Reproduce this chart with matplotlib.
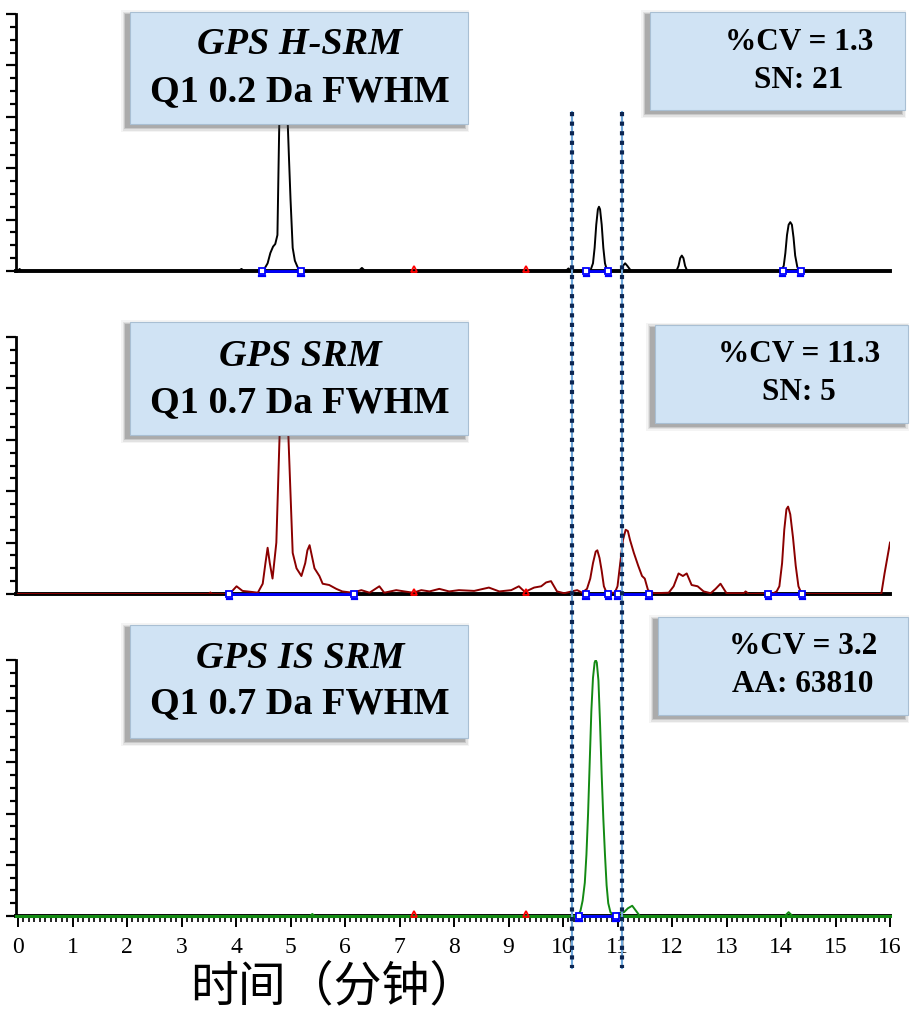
import matplotlib
matplotlib.use("Agg")
import matplotlib.pyplot as plt
from matplotlib.patches import Rectangle
from matplotlib.lines import Line2D
from matplotlib.ticker import MultipleLocator, NullFormatter

# ---- chromatogram traces: retention time (min) and relative intensity (%) ----
h_srm_time = [0.0, 0.03, 0.06, 0.1, 4.05, 4.1, 4.15, 4.45, 4.52, 4.58, 4.63, 4.68, 4.72,
              4.76, 4.78, 4.80, 4.88, 4.95, 4.97, 5.0, 5.04, 5.08, 5.13, 5.18,
              6.25, 6.31, 6.37, 10.05, 10.1, 10.15,
              10.5, 10.55, 10.58, 10.61, 10.64, 10.66, 10.68, 10.71, 10.74, 10.77, 10.81,
              11.05, 11.1, 11.14, 11.18, 11.25,
              12.08, 12.12, 12.15, 12.18, 12.21, 12.24, 12.28,
              14.0, 14.05, 14.08, 14.11, 14.14, 14.17, 14.2, 14.23, 14.26, 14.3, 14.34,
              16.0]
h_srm_int = [0.0, 0.8, 0.0, 0.0, 0.0, 0.8, 0.0, 0.0, 0.8, 3.0, 7.0, 9.5, 10.5,
             14.0, 40.0, 65.0, 100.0, 57.0, 45.0, 28.0, 9.0, 4.0, 1.5, 0.0,
             0.0, 1.2, 0.0, 0.0, 1.0, 0.0,
             0.0, 3.0, 9.0, 18.0, 24.0, 25.0, 24.0, 18.0, 9.0, 3.0, 0.0,
             0.0, 2.0, 3.0, 2.0, 0.0,
             0.0, 2.0, 5.0, 6.0, 5.0, 2.0, 0.0,
             0.0, 2.0, 7.0, 14.0, 18.0, 19.0, 18.0, 13.0, 6.0, 1.5, 0.0,
             0.0]

srm_time = [0.0, 3.5, 3.53, 3.56, 3.88, 4.01, 4.12, 4.29, 4.40, 4.49, 4.54, 4.58, 4.62,
            4.67, 4.74, 4.80, 4.87, 4.96, 5.04, 5.11, 5.20, 5.27, 5.31, 5.35, 5.39, 5.44,
            5.53, 5.59, 5.71, 5.84, 5.95, 6.14, 6.30, 6.45, 6.63, 6.72, 6.94, 7.09, 7.25,
            7.40, 7.55, 7.73, 7.91, 8.09, 8.37, 8.64, 8.83, 9.05, 9.19, 9.30, 9.47, 9.60,
            9.69, 9.78, 9.89, 10.02, 10.26, 10.35, 10.44, 10.50, 10.55, 10.60, 10.63,
            10.67, 10.71, 10.75, 10.80, 10.95, 11.00, 11.05, 11.10, 11.15, 11.19, 11.23,
            11.30, 11.38, 11.45, 11.50, 11.56, 11.67, 11.94, 12.03, 12.12, 12.20, 12.27,
            12.36, 12.47, 12.58, 12.71, 12.80, 12.89, 13.00, 13.32, 13.35, 13.41, 13.86,
            13.92, 13.97, 14.02, 14.06, 14.10, 14.13, 14.17, 14.22, 14.27, 14.32, 14.38,
            15.84, 15.90, 16.0]
srm_int = [0.0, 0.0, 0.6, 0.0, 0.0, 3.0, 1.2, 0.8, 0.5, 4.0, 12.0, 18.0, 12.0,
           6.0, 20.0, 62.0, 100.0, 62.0, 16.0, 10.0, 7.0, 12.0, 17.0, 19.0, 15.0, 10.0,
           7.0, 4.0, 3.5, 2.0, 1.0, 0.5, 1.5, 0.5, 3.0, 0.5, 1.5, 1.0, 0.5,
           1.5, 1.0, 2.0, 1.0, 1.5, 1.2, 2.5, 1.0, 1.5, 3.0, 0.8, 2.5, 3.0,
           4.5, 5.0, 1.0, 0.3, 1.5, 0.5, 2.0, 6.0, 12.0, 16.5, 17.0,
           14.0, 9.0, 3.0, 0.5, 0.5, 3.0, 12.0, 21.0, 25.0, 24.5, 21.0,
           16.0, 11.0, 7.0, 6.0, 1.5, 0.3, 0.5, 3.0, 8.0, 7.0, 8.0,
           3.5, 3.0, 1.0, 0.3, 2.0, 4.0, 0.3, 0.3, 1.0, 0.0, 0.3,
           1.0, 3.0, 12.0, 25.0, 33.0, 34.0, 31.0, 22.0, 11.0, 3.0, 0.0,
           0.0, 8.0, 20.0]

is_srm_time = [0.0, 5.36, 5.40, 5.44, 10.27, 10.32, 10.36, 10.40, 10.43, 10.46, 10.49,
               10.52, 10.55, 10.58, 10.60, 10.62, 10.65, 10.68, 10.71, 10.74, 10.77,
               10.80, 10.83, 10.87, 10.92, 10.99, 11.12, 11.19, 11.27, 11.34, 11.41,
               14.07, 14.14, 14.21, 16.0]
is_srm_int = [0.0, 0.0, 0.8, 0.0, 0.0, 2.0, 6.0, 13.0, 24.0, 40.0, 60.0,
              80.0, 93.0, 99.0, 100.0, 99.0, 92.0, 75.0, 55.0, 38.0, 24.0,
              12.0, 5.0, 1.5, 0.5, 1.0, 1.5, 3.0, 4.0, 2.0, 0.0,
              0.0, 1.5, 0.0, 0.0]

# integration baselines (start, end) per trace, and red reference marks
h_srm_windows = [(4.48, 5.19), (10.43, 10.83), (14.03, 14.36)]
srm_windows = [(3.88, 6.17), (10.42, 10.83), (11.0, 11.58), (13.77, 14.39)]
is_srm_windows = [(10.29, 10.97)]
h_srm_marks = [7.27, 9.32]
srm_marks = [7.27, 9.32]
is_srm_marks = [7.27, 9.32]

# selected retention window
window_lines = [10.16, 11.08]

# box labels
titles = ["GPS H-SRM", "GPS SRM", "GPS IS SRM"]
subtitles = ["Q1 0.2 Da FWHM", "Q1 0.7 Da FWHM", "Q1 0.7 Da FWHM"]
stats_1 = ["%CV = 1.3", "%CV = 11.3", "%CV = 3.2"]
stats_2 = ["SN: 21", "SN: 5", "AA: 63810"]
x_ticks = list(range(0, 17))
x_label = "时间（分钟）"

W, H = 910, 1010
fig = plt.figure(figsize=(W / 100, H / 100), dpi=100)


def fx(px):
    return px / W


def fy(py):
    return 1 - py / H


ax_left, ax_right = 16, 890
panels = [(14, 271), (337, 594), (660, 916)]
xmin, xmax = -0.037, 16.0

traces = [
    (h_srm_time, h_srm_int, "black", h_srm_windows, h_srm_marks),
    (srm_time, srm_int, "#8b0000", srm_windows, srm_marks),
    (is_srm_time, is_srm_int, "#138a13", is_srm_windows, is_srm_marks),
]

axes = []
for i, ((top, base), (t, y, col, wins, marks)) in enumerate(zip(panels, traces)):
    ax = fig.add_axes([fx(ax_left), fy(base), fx(ax_right - ax_left), (base - top) / H])
    ax.set_xlim(xmin, xmax)
    ax.set_ylim(0, 100)
    for s in ("top", "right"):
        ax.spines[s].set_visible(False)
    ax.spines["left"].set_linewidth(2)
    ax.spines["bottom"].set_linewidth(2.8)
    ax.yaxis.set_major_locator(MultipleLocator(20))
    ax.yaxis.set_minor_locator(MultipleLocator(5))
    ax.yaxis.set_major_formatter(NullFormatter())
    ax.tick_params(axis="y", which="major", direction="out", length=7, width=1.6)
    ax.tick_params(axis="y", which="minor", direction="out", length=4.5, width=1.6)
    if i < 2:
        ax.tick_params(axis="x", which="both", bottom=False, labelbottom=False)
    else:
        ax.set_xticks(x_ticks)
        ax.set_xticklabels([str(v) for v in x_ticks], fontfamily="Liberation Serif",
                           fontsize=17)
        ax.xaxis.set_minor_locator(MultipleLocator(0.1))
        ax.tick_params(axis="x", which="major", direction="out", length=8, width=1.4,
                       pad=7)
        ax.tick_params(axis="x", which="minor", direction="out", length=4, width=1.2)
        ax.axhline(0, color=col, lw=2.2, zorder=3, clip_on=False)
    ax.plot(t, y, color=col, lw=1.4, zorder=4, clip_on=True)
    for a, b in wins:
        ax.plot([a, b], [0, 0], color="#0000ff", lw=2.0, zorder=5, clip_on=False)
        ax.plot([a, b], [0, 0], ls="none", zorder=6, clip_on=False,
                marker="s", ms=4.5, mfc="white", mec="#0000ff", mew=1.3)
        for v in (a, b):
            ax.plot([v - 0.05, v + 0.05], [-2.0, -2.0], color="#0000ff", lw=1.6,
                    zorder=5, clip_on=False)
    for m in marks:
        ax.plot([m], [0.6], marker="^", ms=5, color="red", mfc="none", mew=1.3,
                zorder=5, clip_on=False)
    axes.append(ax)


def draw_box(x0, y0, x1, y1):
    # soft drop shadow, mostly to the lower left
    for k, a in [(5, 0.06), (3.5, 0.10), (2, 0.16), (1, 0.22)]:
        fig.patches.append(Rectangle((fx(x0 - 4 - k), fy(y1 + 3 + k)),
                                     fx(x1 - x0 + 2 * k), (y1 - y0 + 2 * k) / H,
                                     transform=fig.transFigure, facecolor="#444444",
                                     edgecolor="none", alpha=a, zorder=5))
    fig.patches.append(Rectangle((fx(x0), fy(y1)), fx(x1 - x0), (y1 - y0) / H,
                                 transform=fig.transFigure, facecolor="#d0e3f4",
                                 edgecolor="#a9bfd3", lw=0.8, zorder=6))


serif = "Liberation Serif"
left_boxes = [(130, 12, 468, 124), (130, 322, 468, 435), (130, 625, 468, 738)]
right_boxes = [(650, 12, 905, 110), (655, 325, 908, 423), (658, 617, 908, 715)]
title_y = [45, 357, 658]
sub_y = [92, 403, 704]
stat1_y = [43, 355, 647]
stat2_y = [80, 393, 685]
stat_x = [799, 799, 803]

for i in range(3):
    draw_box(*left_boxes[i])
    draw_box(*right_boxes[i])
    fig.text(fx(300), fy(title_y[i]), titles[i], fontfamily=serif, fontstyle="italic",
             fontweight="bold", fontsize=27.5, ha="center", va="center", zorder=7)
    fig.text(fx(300), fy(sub_y[i]), subtitles[i], fontfamily=serif, fontweight="bold",
             fontsize=27.5, ha="center", va="center", zorder=7)
    fig.text(fx(stat_x[i]), fy(stat1_y[i]), stats_1[i], fontfamily=serif,
             fontweight="bold", fontsize=22.5, ha="center", va="center", zorder=7)
    fig.text(fx(stat_x[i]), fy(stat2_y[i]), stats_2[i], fontfamily=serif,
             fontweight="bold", fontsize=22.5, ha="center", va="center", zorder=7)

# retention window markers spanning all three traces
to_fig = axes[2].transData + fig.transFigure.inverted()
for xv in window_lines:
    xf = to_fig.transform((xv, 0))[0]
    fig.lines.append(Line2D([xf, xf], [fy(112), fy(968)], transform=fig.transFigure,
                            color="#6fa8dc", lw=1.5, zorder=8))
    fig.lines.append(Line2D([xf, xf], [fy(112), fy(968)], transform=fig.transFigure,
                            color="#0b2552", lw=3.0, linestyle=(0, (1, 1.3)),
                            dash_capstyle="butt", zorder=9))

fig.text(fx(334), fy(987), x_label, fontsize=34.5,
         fontfamily=["Noto Sans CJK SC", "DejaVu Sans"], ha="center", va="center")

fig.savefig("out.png", dpi=100)
